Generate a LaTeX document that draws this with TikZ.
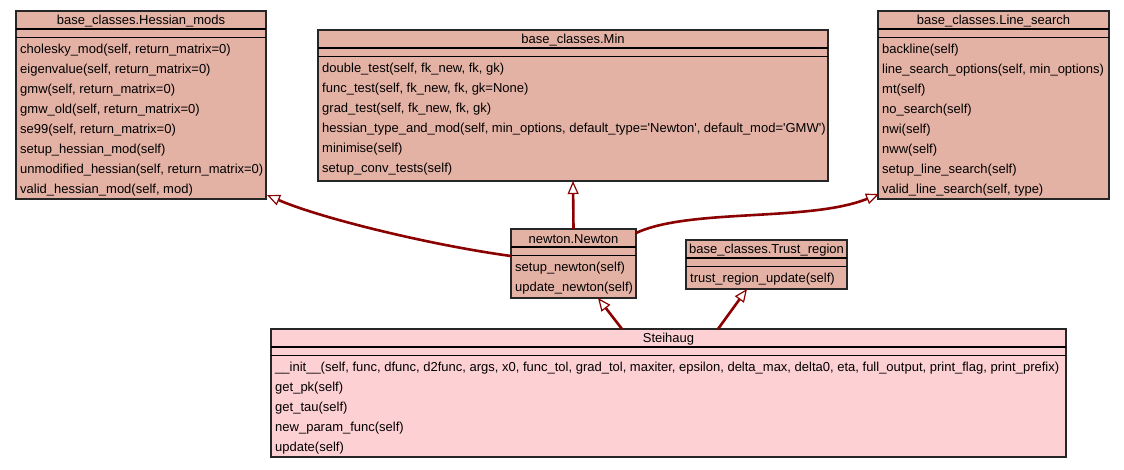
\documentclass[tikz,border=0pt]{standalone}
\usepackage{fontspec}
\setmainfont{Liberation Sans}
\usetikzlibrary{arrows.meta,calc}
\definecolor{classfill}{RGB}{228,178,165}
\definecolor{leaffill}{RGB}{253,208,212}
\definecolor{edgered}{RGB}{139,0,0}
\tikzset{
  classbox/.style={draw=black!85, line width=1.2pt, inner sep=0pt, outer sep=0pt, fill=classfill},
  titletext/.style={anchor=center, inner sep=0pt, font=\fontsize{13}{15}\selectfont},
  member/.style={anchor=west, inner sep=0pt, font=\fontsize{13}{15}\selectfont},
  sepline/.style={line width=1.8pt, black},
  inherit/.style={draw=edgered, line width=2.6pt,
    -{Triangle[fill=white, length=13pt, width=11pt, line width=1.2pt]}},
}
% separators and member rows of one class box
\newcommand\classrows[2]{%
  \draw[sepline] ($(#1.north west)+(0,18)$) -- ($(#1.north east)+(0,18)$);
  \draw[sepline] ($(#1.north west)+(0,26.5)$) -- ($(#1.north east)+(0,26.5)$);
  \foreach \txt [count=\k from 0] in {#2} {
    \node[member] (#1-m\k) at ($(#1.north west)+(4,39+20*\k)$) {\txt};
  }
}
\newcommand\q{\textquotesingle}
\begin{document}
\begin{tikzpicture}[x=1pt, y=-1pt]
  \useasboundingbox (0,0) rectangle (1124,469);
  \fill[white] (0,0) rectangle (1124,469);

  % class boxes
  \node[classbox, minimum width=250pt, minimum height=188pt] (hess) at (141,105) {};
  \node[classbox, minimum width=510pt, minimum height=151pt] (min) at (573,105.5) {};
  \node[classbox, minimum width=231pt, minimum height=188pt] (ls) at (993.5,105) {};
  \node[classbox, minimum width=125pt, minimum height=69pt] (newton) at (573.5,263.5) {};
  \node[classbox, minimum width=161pt, minimum height=49pt] (trust) at (766.5,264.5) {};
  \node[classbox, fill=leaffill, minimum width=795pt, minimum height=128pt] (steihaug) at (668.5,393) {};

  % titles
  \node[titletext] (hess-t) at ($(hess.north)+(0,10.5)$) {base\_classes.Hessian\_mods};
  \node[titletext] (min-t) at ($(min.north)+(0,10.5)$) {base\_classes.Min};
  \node[titletext] (ls-t) at ($(ls.north)+(0,10.5)$) {base\_classes.Line\_search};
  \node[titletext] (newton-t) at ($(newton.north)+(0,10.5)$) {newton.Newton};
  \node[titletext] (trust-t) at ($(trust.north)+(0,10.5)$) {base\_classes.Trust\_region};
  \node[titletext] (steihaug-t) at ($(steihaug.north)+(0,10.5)$) {Steihaug};

  % members
  \classrows{hess}{{cholesky\_mod(self, return\_matrix=0)},
    {eigenvalue(self, return\_matrix=0)},
    {gmw(self, return\_matrix=0)},
    {gmw\_old(self, return\_matrix=0)},
    {se99(self, return\_matrix=0)},
    {setup\_hessian\_mod(self)},
    {unmodified\_hessian(self, return\_matrix=0)},
    {valid\_hessian\_mod(self, mod)}}
  \classrows{min}{{double\_test(self, fk\_new, fk, gk)},
    {func\_test(self, fk\_new, fk, gk=None)},
    {grad\_test(self, fk\_new, fk, gk)},
    {hessian\_type\_and\_mod(self, min\_options, default\_type=\q Newton\q, default\_mod=\q GMW\q)},
    {minimise(self)},
    {setup\_conv\_tests(self)}}
  \classrows{ls}{{backline(self)},
    {line\_search\_options(self, min\_options)},
    {mt(self)},
    {no\_search(self)},
    {nwi(self)},
    {nww(self)},
    {setup\_line\_search(self)},
    {valid\_line\_search(self, type)}}
  \classrows{newton}{{setup\_newton(self)},
    {update\_newton(self)}}
  \classrows{trust}{{trust\_region\_update(self)}}
  \classrows{steihaug}{{\_\_init\_\_(self, func, dfunc, d2func, args, x0, func\_tol, grad\_tol, maxiter, epsilon, delta\_max, delta0, eta, full\_output, print\_flag, print\_prefix)},
    {get\_pk(self)},
    {get\_tau(self)},
    {new\_param\_func(self)},
    {update(self)}}

  % inheritance
  \draw[inherit] (newton.north) -- (min.south);
  \draw[inherit] ([yshift=7.5pt]newton.west)
    .. controls (430,245) and (320,218) .. ([shift={(1pt,4pt)}]hess.south east);
  \draw[inherit] ([yshift=-4pt]newton.north east)
    .. controls (690,208) and (810,222) .. ([shift={(1pt,5pt)}]ls.south west);
  \draw[inherit] ([xshift=-46.5pt]steihaug.north) -- ([xshift=24.5pt]newton.south);
  \draw[inherit] ([xshift=49.5pt]steihaug.north) -- ([xshift=-19.5pt]trust.south);
\end{tikzpicture}
\end{document}
